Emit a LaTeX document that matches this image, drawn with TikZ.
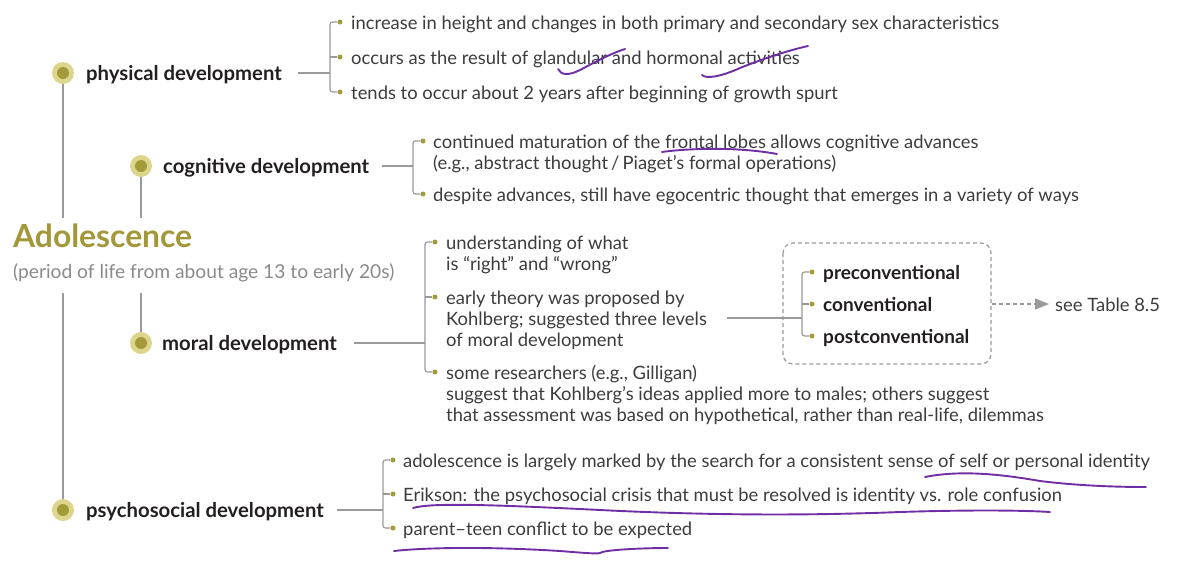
\documentclass[tikz,border=0pt]{standalone}
\usepackage{fontspec}
\setmainfont{Lato}
\usetikzlibrary{arrows.meta}
\definecolor{olv}{HTML}{A39A3A}
\definecolor{ringc}{HTML}{DDD58C}
\definecolor{titlec}{HTML}{A2983A}
\definecolor{lgray}{HTML}{9A9A9C}
\definecolor{headc}{HTML}{231F20}
\definecolor{itemc}{HTML}{3C3C3E}
\definecolor{subc}{HTML}{8A8A8C}
\definecolor{pen}{HTML}{6F2EA3}
\begin{document}
\begin{tikzpicture}[x=1pt,y=-1pt,
  conn/.style={draw=lgray, line width=1.2pt},
  bar/.style={draw=lgray, line width=1.2pt, rounded corners=2.5pt},
  head/.style={font=\fontsize{20.3}{24}\selectfont\bfseries, text=headc, anchor=base west, inner sep=0pt},
  item/.style={font=\fontsize{18.4}{21.4}\selectfont, text=itemc, anchor=base west, inner sep=0pt, align=left},
  lvl/.style={font=\fontsize{19}{22}\selectfont\bfseries, text=headc, anchor=base west, inner sep=0pt},
  ring/.style={circle, fill=ringc, minimum size=22pt, inner sep=0pt},
  core/.style={circle, fill=olv, minimum size=12pt, inner sep=0pt},
  dot/.style={circle, fill=olv, minimum size=5pt, inner sep=0pt},
  ink/.style={draw=pen, line width=1.9pt, line cap=round, line join=round}]
\useasboundingbox (0,0) rectangle (1177,568);

% title
\node[font=\fontsize{31.8}{36}\selectfont\bfseries, text=titlec, anchor=base west, inner sep=0pt] (title) at (13,247.5) {Adolescence};
\node[font=\fontsize{19.2}{22}\selectfont, text=subc, anchor=base west, inner sep=0pt] (sub) at (13,278) {(period of life from about age 13 to early 20s)};

% main circles
\node[ring] (pc) at (63,73) {}; \node[core] at (pc) {};
\node[ring] (cc) at (141,166) {}; \node[core] at (cc) {};
\node[ring] (mc) at (141,343) {}; \node[core] at (mc) {};
\node[ring] (sc) at (63,510) {}; \node[core] at (sc) {};

\coordinate (t1) at (63,218); \coordinate (t2) at (141,218);
\coordinate (b1) at (63,293); \coordinate (b2) at (141,293);
\draw[conn] (pc.south) -- (t1);
\draw[conn] (cc.south) -- (t2);
\draw[conn] (b1) -- (sc.north);
\draw[conn] (b2) -- (mc.north);

% headings
\node[head] (phys) at (86,80.5) {physical development};
\node[head] (cog) at (163,173.5) {cognitive development};
\node[head] (mor) at (162,350.5) {moral development};
\node[head] (psy) at (86,517.5) {psychosocial development};

% physical
\coordinate (pb) at (330,73);
\node[dot] (p1) at (340,22) {};
\node[dot] (p2) at (340,57) {};
\node[dot] (p3) at (340,92) {};
\node[item] (p1t) at (351,29) {increase in height and changes in both primary and secondary sex characteristics};
\node[item] (p2t) at (351,64) {occurs as the result of glandular and hormonal activities};
\node[item] (p3t) at (351,99) {tends to occur about 2 years after beginning of growth spurt};
\draw[conn] ([xshift=16pt]phys.east |- pb) -- (pb);
\draw[bar] (p1.west) -| (pb) |- (p3.west);
\draw[conn] (pb |- p2) -- (p2.west);

% cognitive
\coordinate (cb) at (413,166);
\node[dot] (c1) at (423,141) {};
\node[dot] (c2) at (423,194) {};
\node[item] (c1t) at (433,169.4) {continued maturation of the frontal lobes allows cognitive advances\\(e.g., abstract thought\,/\,Piaget’s formal operations)};
\node[item] (c2t) at (433,201) {despite advances, still have egocentric thought that emerges in a variety of ways};
\draw[conn] ([xshift=13pt]cog.east |- cb) -- (cb);
\draw[bar] (c1.west) -| (cb) |- (c2.west);

% moral
\coordinate (mb) at (425,343);
\node[dot] (m1) at (435,242) {};
\node[dot] (m2) at (435,297) {};
\node[dot] (m3) at (435,372) {};
\node[item] (m1t) at (446,270.4) {understanding of what\\is “right” and “wrong”};
\node[item] (m2t) at (446,346.8) {early theory was proposed by\\Kohlberg; suggested three levels\\of moral development};
\node[item] (m3t) at (446,421.8) {some researchers (e.g., Gilligan)\\suggest that Kohlberg’s ideas applied more to males; others suggest\\that assessment was based on hypothetical, rather than real-life, dilemmas};
\draw[conn] ([xshift=17pt]mor.east |- mb) -- (mb);
\draw[bar] (m1.west) -| (mb) |- (m3.west);
\draw[conn] (mb |- m2) -- (m2.west);

% levels box
\draw[draw=lgray, line width=1.2pt, dashed, dash pattern=on 4pt off 3pt, rounded corners=10pt] (783,243) rectangle (991,364);
\coordinate (lb) at (802,318);
\coordinate (ls) at (727,318);
\node[dot] (l1) at (812,272) {};
\node[dot] (l2) at (812,304) {};
\node[dot] (l3) at (812,336) {};
\node[lvl] (l1t) at (823,279) {preconventional};
\node[lvl] (l2t) at (823,311) {conventional};
\node[lvl] (l3t) at (823,343) {postconventional};
\draw[conn] (ls) -- (lb);
\draw[bar] (l1.west) -| (lb) |- (l3.west);
\draw[conn] (lb |- l2) -- (l2.west);
\coordinate (ae) at (992,304);
\node[font=\fontsize{18.4}{22}\selectfont, text=itemc, anchor=west, inner sep=0pt] (see) at (1055,305) {see Table 8.5};
\draw[draw=lgray, line width=1.2pt, dash pattern=on 4pt off 3pt, -{Triangle[length=14pt,width=11pt,fill=lgray]}] (ae) -- ([xshift=-6pt]see.west |- ae);

% psychosocial
\coordinate (sb) at (383,510);
\node[dot] (s1) at (393,460) {};
\node[dot] (s2) at (393,494) {};
\node[dot] (s3) at (393,528) {};
\node[item] (s1t) at (403,467) {adolescence is largely marked by the search for a consistent sense of self or personal identity};
\node[item] (s2t) at (403,501) {Erikson: the psychosocial crisis that must be resolved is identity vs. role confusion};
\node[item] (s3t) at (403,535) {parent–teen conflict to be expected};
\draw[conn] ([xshift=13pt]psy.east |- sb) -- (sb);
\draw[bar] (s1.west) -| (sb) |- (s3.west);
\draw[conn] (sb |- s2) -- (s2.west);

% handwritten marks
\draw[ink] (558,69) .. controls (561,75) and (568,76) .. (580,70) .. controls (595,62) and (612,53) .. (625,49);
\draw[ink] (702,75) .. controls (706,79) and (720,77) .. (740,68) .. controls (765,58) and (790,50) .. (808,46);
\draw[ink] (662,152) .. controls (690,148) and (740,147) .. (777,154);
\draw[ink] (925,477) .. controls (960,470) and (1000,474) .. (1040,481) .. controls (1080,486) and (1120,487) .. (1146,487);
\draw[ink] (413,508) .. controls (430,503) and (480,504) .. (600,510) .. controls (700,515) and (800,516) .. (900,512) .. controls (960,510) and (1020,510) .. (1050,512);
\draw[ink] (394,551) .. controls (420,548) and (480,546) .. (560,551) .. controls (585,553) and (597,554) .. (600,553) .. controls (603,550) and (640,548) .. (668,548);
\end{tikzpicture}
\end{document}
